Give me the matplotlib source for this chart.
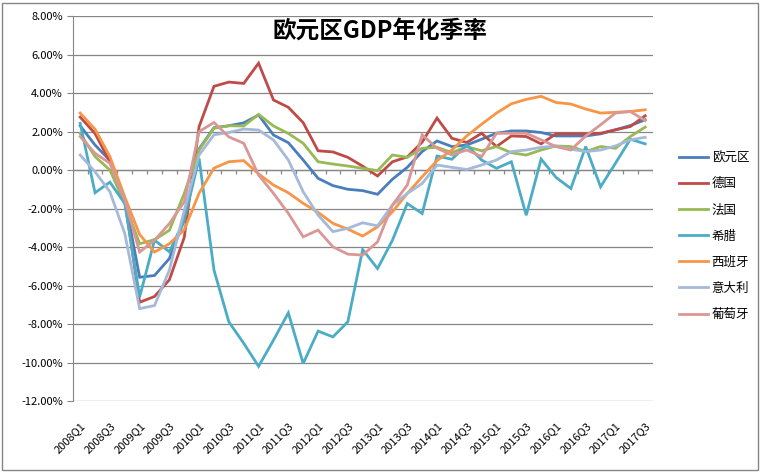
import matplotlib
matplotlib.use("Agg")
import matplotlib.pyplot as plt
from matplotlib.patches import Rectangle
from matplotlib.ticker import FuncFormatter
import numpy as np

plt.rcParams['font.family'] = ['Noto Sans CJK SC', 'DejaVu Sans']

# quarters 2008Q1 .. 2017Q3
quarters = [f"{y}Q{q}" for y in range(2008, 2018) for q in range(1, 5)][:39]

eurozone = [2.3, 1.3, 0.5, -1.5, -5.57, -5.48, -4.6, -2.6, 1.1, 2.2, 2.3, 2.45, 2.86,
            1.82, 1.42, 0.52, -0.43, -0.81, -1.0, -1.07, -1.26, -0.48, 0.14, 0.96, 1.51,
            1.22, 1.3, 1.6, 1.91, 2.03, 2.03, 1.95, 1.77, 1.77, 1.77, 1.88, 2.09, 2.31, 2.61]
germany = [2.75, 1.9, 0.43, -1.5, -6.87, -6.57, -5.7, -3.5, 2.26, 4.35, 4.57, 4.5, 5.55,
           3.64, 3.26, 2.46, 1.0, 0.94, 0.66, 0.2, -0.31, 0.43, 0.68, 1.45, 2.7,
           1.65, 1.43, 1.91, 1.22, 1.77, 1.74, 1.36, 1.88, 1.88, 1.88, 1.91, 2.09, 2.26, 2.82]
france = [1.9, 0.7, 0.0, -1.74, -3.83, -3.62, -3.13, -1.22, 1.04, 2.17, 2.3, 2.29, 2.89,
          2.29, 1.9, 1.39, 0.43, 0.31, 0.21, 0.09, -0.03, 0.78, 0.66, 1.13, 1.18,
          0.9, 1.22, 1.0, 1.22, 0.9, 0.78, 1.04, 1.25, 1.22, 0.96, 1.22, 1.13, 1.74, 2.23]
greece = [2.43, -1.18, -0.63, -1.74, -6.6, -3.64, -4.25, -2.6, 0.6, -5.2, -7.89, -9.0, -10.2,
          -8.84, -7.42, -10.05, -8.37, -8.67, -7.89, -4.13, -5.12, -3.65, -1.74, -2.26, 0.73,
          0.56, 1.3, 0.52, 0.09, 0.43, -2.35, 0.57, -0.38, -0.96, 1.22, -0.87, 0.35, 1.6, 1.36]
spain = [2.96, 2.12, 0.7, -1.4, -3.35, -4.26, -3.83, -3.1, -1.2, 0.1, 0.43, 0.49, -0.2,
         -0.78, -1.18, -1.73, -2.2, -2.77, -3.07, -3.43, -2.95, -2.17, -1.22, -0.35, 0.49,
         1.04, 1.77, 2.38, 2.96, 3.44, 3.67, 3.83, 3.51, 3.43, 3.17, 2.96, 3.0, 3.04, 3.13]
italy = [0.78, -0.09, -1.13, -3.3, -7.2, -7.04, -5.2, -2.1, 0.78, 1.83, 1.95, 2.13, 2.08,
         1.56, 0.52, -1.13, -2.34, -3.2, -3.03, -2.74, -2.9, -1.82, -1.22, -0.7, 0.26,
         0.14, 0.03, 0.26, 0.52, 0.96, 1.04, 1.18, 1.25, 1.08, 0.96, 1.04, 1.25, 1.57, 1.7]
portugal = [1.74, 0.87, 0.35, -1.57, -4.26, -3.65, -2.78, -1.65, 2.0, 2.47, 1.72, 1.39, -0.26,
            -1.21, -2.25, -3.47, -3.12, -3.99, -4.37, -4.42, -3.73, -1.82, -0.78, 1.83, 1.13,
            0.78, 1.04, 0.7, 1.91, 1.91, 1.91, 1.57, 1.22, 1.04, 1.77, 2.35, 2.96, 3.04, 2.57]

names = ["欧元区", "德国", "法国", "希腊", "西班牙", "意大利", "葡萄牙"]
series = [eurozone, germany, france, greece, spain, italy, portugal]
colors = ["#4A7EBB", "#BE4B48", "#98B954", "#4BACC6", "#F79646", "#A5B9DA", "#D99795"]

fig = plt.figure(figsize=(7.6, 4.72), dpi=100)
ax = fig.add_axes([0.0957, 0.1504, 0.763, 0.8156])

x = np.arange(len(quarters))
for vals, name, c in zip(series, names, colors):
    ax.plot(x, vals, color=c, lw=2.0, label=name, solid_joinstyle="miter", zorder=3)

ax.set_xlim(-0.5, len(quarters) - 0.5)
ax.set_ylim(-12, 8)
ax.set_yticks(np.arange(-12, 8.1, 2))
ax.yaxis.set_major_formatter(FuncFormatter(lambda v, p: f"{v:.2f}%"))
ax.grid(axis="y", color="#868686", lw=0.9, zorder=0)

# category axis crosses at zero, with tick marks between categories
ax.axhline(0, color="#868686", lw=0.9, zorder=1)
bounds = np.arange(0, len(quarters) + 1) - 0.5
ax.vlines(bounds, -0.22, 0, color="#868686", lw=0.9, zorder=1)

ax.set_xticks(x[::2])
ax.set_xticklabels(quarters[::2], rotation=45, ha="right", rotation_mode="anchor", fontsize=8)
ax.tick_params(axis="x", length=0, pad=14)
ax.tick_params(axis="y", length=4, color="#868686", labelsize=8, pad=3)

for s in ["top", "right", "bottom"]:
    ax.spines[s].set_visible(False)
ax.spines["left"].set_color("#868686")

fig.text(0.5, 0.935, "欧元区GDP年化季率", ha="center", va="center", fontsize=17, fontweight="bold")

fig.legend(loc="center left", bbox_to_anchor=(668 / 760, 1 - 236 / 472), frameon=False,
           fontsize=9, handlelength=2.3, handletextpad=0.3, labelspacing=1.05)

fig.patches.append(Rectangle((0.002, 0.004), 0.995, 0.99, transform=fig.transFigure,
                             fill=False, edgecolor="#868686", lw=1))

fig.savefig("out.png", dpi=100)
